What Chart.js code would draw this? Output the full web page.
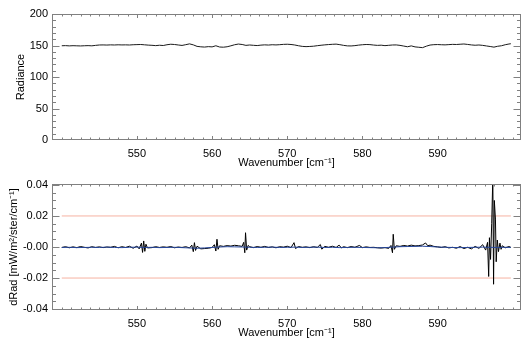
<!DOCTYPE html>
<html>
<head>
<meta charset="utf-8">
<script src="https://cdn.jsdelivr.net/npm/chart.js@4/dist/chart.umd.min.js"></script>
<style>
  html, body { margin: 0; padding: 0; background: #fff; }
  #wrap { position: relative; width: 526px; height: 342px; }
  canvas { position: absolute; left: 0; }
</style>
</head>
<body>
<div id="wrap">
  <canvas id="top" width="526" height="171" style="top:0"></canvas>
  <canvas id="bottom" width="526" height="171" style="top:170px"></canvas>
</div>
<script>
// --- data ---
const radWn = [
  540, 540.5, 541, 541.5, 542, 542.5, 543, 543.5, 544, 544.5,
  545, 545.5, 546, 546.5, 547, 547.5, 548, 548.5, 549, 549.5,
  550, 550.5, 551, 551.5, 552, 552.5, 553, 553.5, 554, 554.5,
  555, 555.5, 556, 556.5, 557, 557.5, 558, 558.5, 559, 559.5,
  560, 560.5, 561, 561.5, 562, 562.5, 563, 563.5, 564, 564.5,
  565, 565.5, 566, 566.5, 567, 567.5, 568, 568.5, 569, 569.5,
  570, 570.5, 571, 571.5, 572, 572.5, 573, 573.5, 574, 574.5,
  575, 575.5, 576, 576.5, 577, 577.5, 578, 578.5, 579, 579.5,
  580, 580.5, 581, 581.5, 582, 582.5, 583, 583.5, 584, 584.5,
  585, 585.5, 586, 586.5, 587, 587.5, 588, 588.5, 589, 589.5,
  590, 590.5, 591, 591.5, 592, 592.5, 593, 593.5, 594, 594.5,
  595, 595.5, 596, 596.5, 597, 597.5, 598, 598.5, 599, 599.5,
  599.75
];
const radiance = [
  149.6, 149.8, 149.4, 149.7, 149.5, 149.3, 149.6, 149.8, 149.5, 150.2,
  150.8, 150.9, 150.7, 151.0, 150.8, 151.1, 150.9, 151.0, 150.8, 151.2,
  151.4, 151.6, 151.1, 150.6, 150.3, 149.8, 150.4, 150.0, 151.2, 152.0,
  151.6, 150.8, 150.1, 151.3, 152.6, 151.0, 148.6, 147.9, 147.5, 148.2,
  147.8, 149.6, 147.6, 147.3, 148.0, 149.5, 151.2, 152.3, 151.6, 150.2,
  150.8, 150.3, 149.9, 150.6, 151.0, 150.7, 151.2, 150.9, 151.3, 151.8,
  152.0, 151.6, 150.8, 149.6, 148.6, 148.2, 148.5, 148.9, 149.7, 150.4,
  151.0, 151.5, 151.9, 152.2, 151.3, 150.2, 149.4, 149.3, 149.8, 150.6,
  151.2, 151.6, 151.4, 150.7, 150.2, 150.5, 149.8, 150.3, 150.8, 150.9,
  150.2, 149.1, 148.0, 149.4, 147.8, 147.2, 146.6, 148.9, 150.7, 151.3,
  151.5, 151.2, 151.0, 151.4, 151.8, 151.6, 152.0, 152.4, 151.7, 150.9,
  150.4, 150.8, 150.2, 149.3, 148.4, 147.4, 148.8, 149.6, 151.2, 152.4,
  152.8
];

const dRadWn = [
  540, 540.5, 541, 541.5, 542, 542.5, 543, 543.5, 544, 544.5,
  545, 545.5, 546, 546.5, 547, 547.5, 548, 548.5, 549, 549.5,
  550, 550.3, 550.6, 550.75, 550.9, 551.05, 551.2, 551.4, 552, 552.5,
  553, 553.5, 554, 554.5, 555, 555.5, 556, 556.5, 557, 557.3,
  557.5, 557.65, 557.8, 558, 558.5, 559, 559.5, 560, 560.3, 560.5,
  560.65, 560.8, 561, 561.5, 562, 562.5, 563, 563.5, 564, 564.2,
  564.35, 564.45, 564.6, 564.8, 565, 565.5, 566, 566.5, 567, 567.5,
  568, 568.5, 569, 569.5, 570, 570.5, 570.9, 571.1, 571.5, 572,
  572.5, 573, 573.5, 574, 574.4, 574.6, 575, 575.5, 576, 576.5,
  576.9, 577.2, 577.5, 578, 578.5, 579, 579.6, 580, 580.5, 581,
  581.5, 582, 582.5, 583, 583.5, 583.8, 584, 584.1, 584.25, 584.5,
  585, 585.5, 586, 586.5, 587, 587.5, 588, 588.4, 588.7, 589,
  589.5, 590, 590.5, 591, 591.5, 592, 592.5, 593, 593.5, 594,
  594.5, 595, 595.5, 596, 596.4, 596.65, 596.8, 596.9, 597.05, 597.2,
  597.35, 597.45, 597.55, 597.7, 597.8, 597.95, 598.1, 598.3, 598.45, 598.6,
  599, 599.5, 599.75
];
const dRad = [
  -0.0003, 0.0002, -0.0005, 0.0001, -0.0004, 0.0003, -0.0002, -0.0006, 0.0002, -0.0003,
  0.0001, -0.0004, 0.0000, -0.0002, 0.0004, -0.0005, 0.0002, -0.0003, 0.0005, -0.0008,
  0.0006, -0.0012, 0.0025, -0.0035, 0.0039, -0.0028, 0.0018, -0.0006, -0.0004, 0.0002,
  -0.0003, 0.0001, -0.0002, 0.0003, -0.0005, 0.0000, -0.0003, 0.0002, -0.0006, 0.0012,
  -0.0030, 0.0028, -0.0022, 0.0005, -0.0012, -0.0010, -0.0008, -0.0003, 0.0015, -0.0026,
  0.0050, -0.0015, 0.0008, 0.0004, 0.0009, 0.0006, 0.0011, 0.0008, 0.0004, 0.0030,
  -0.0037, 0.0092, -0.0020, 0.0010, 0.0002, -0.0004, 0.0003, -0.0002, 0.0004, -0.0003,
  0.0001, -0.0005, 0.0002, -0.0001, 0.0005, -0.0004, 0.0028, -0.0010, 0.0003, -0.0002,
  0.0001, -0.0004, 0.0002, -0.0003, 0.0016, -0.0014, 0.0004, -0.0002, 0.0005, -0.0003,
  0.0012, -0.0006, 0.0002, -0.0004, 0.0003, -0.0002, 0.0010, -0.0004, 0.0001, -0.0003,
  -0.0002, -0.0005, -0.0007, -0.0004, -0.0009, 0.0010, -0.0037, 0.0082, -0.0015, 0.0008,
  0.0004, 0.0010, 0.0006, 0.0012, 0.0007, 0.0009, 0.0013, 0.0026, 0.0008, 0.0012,
  0.0004, 0.0001, -0.0003, 0.0002, -0.0006, -0.0002, -0.0008, 0.0003, -0.0010, -0.0002,
  -0.0012, 0.0004, -0.0009, 0.0015, -0.0020, 0.0030, -0.0190, 0.0060, -0.0080, 0.0150,
  0.0450, -0.0240, 0.0300, 0.0180, -0.0095, 0.0045, -0.0030, 0.0025, -0.0015, 0.0008,
  -0.0005, 0.0003, -0.0002
];

const blueWn = [
  540, 541, 542, 543, 544, 545, 546, 547, 548, 549,
  550, 551, 552, 553, 554, 555, 556, 557, 558, 559,
  560, 561, 562, 563, 564, 565, 566, 567, 568, 569,
  570, 571, 572, 573, 574, 575, 576, 577, 578, 579,
  580, 581, 582, 583, 584, 585, 586, 587, 588, 589,
  590, 591, 592, 593, 594, 595, 596, 597, 598, 599,
  599.75
];
const dRadBlue = [
  -0.0003, -0.0002, -0.0004, -0.0003, -0.0002, -0.0003, -0.0001, -0.0003, -0.0004, -0.0002,
  -0.0001, -0.0003, -0.0002, -0.0004, -0.0003, -0.0002, -0.0004, -0.0006, -0.0008, -0.0006,
  -0.0003, 0.0000, 0.0002, 0.0001, 0.0000, -0.0002, -0.0003, -0.0002, -0.0001, -0.0003,
  -0.0002, -0.0001, -0.0003, -0.0002, -0.0001, -0.0003, -0.0002, -0.0004, -0.0003, -0.0002,
  -0.0003, -0.0004, -0.0005, -0.0004, -0.0001, 0.0002, 0.0003, 0.0004, 0.0005, 0.0003,
  0.0000, -0.0002, -0.0003, -0.0004, -0.0003, -0.0002, -0.0001, -0.0002, -0.0003, -0.0002,
  -0.0003
];

const limitWn = [540, 599.75];
const limitUpper = [0.02, 0.02];
const limitLower = [-0.02, -0.02];

const xTicks = [550, 560, 570, 580, 590];
const xTickLabels = ["550", "560", "570", "580", "590"];
const radTicks = [0, 50, 100, 150, 200];
const radTickLabels = ["0", "50", "100", "150", "200"];
const dRadTicks = [-0.04, -0.02, 0, 0.02, 0.04];
const dRadTickLabels = ["-0.04", "-0.02", "-0.00", "0.02", "0.04"];

const FONT = "'Liberation Sans', Arial, Helvetica, sans-serif";
Chart.defaults.font.family = FONT;
Chart.defaults.font.size = 11;
Chart.defaults.color = "#000";

const pts = (xs, ys) => xs.map((x, i) => ({ x: x, y: ys[i] }));

// frame with inward major/minor ticks on all four sides (IDL style)
const framePlugin = {
  id: "frame",
  afterDatasetsDraw(chart, args, opts) {
    const { ctx, chartArea: a, scales } = chart;
    const xs = scales.x, ys = scales.y;
    const L = Math.round(a.left) + 0.5, R = Math.round(a.right) - 0.5;
    const T = Math.round(a.top) + 0.5, B = Math.round(a.bottom) - 0.5;
    ctx.save();
    ctx.strokeStyle = "#808080";
    ctx.lineWidth = 1;
    ctx.strokeRect(L, T, R - L, B - T);
    ctx.beginPath();
    // x ticks
    for (let v = opts.xMinorFrom; v <= xs.max; v += opts.xMinor) {
      const px = Math.round(xs.getPixelForValue(v)) + 0.5;
      if (px <= L || px >= R) continue;
      const major = xTicks.some((t) => Math.abs(t - v) < 1e-6);
      const len = major ? 3.5 : 2;
      ctx.moveTo(px, B); ctx.lineTo(px, B - len);
      ctx.moveTo(px, T); ctx.lineTo(px, T + len);
    }
    // y ticks
    const yMajor = opts.yMajor;
    for (let v = ys.min; v <= ys.max + 1e-9; v += opts.yMinor) {
      const vv = Math.round(v / opts.yMinor) * opts.yMinor;
      const py = Math.round(ys.getPixelForValue(vv)) + 0.5;
      if (py < T - 0.1 || py > B + 0.1) continue;
      const major = yMajor.some((t) => Math.abs(t - vv) < opts.yMinor / 10);
      const len = major ? 7 : 3.5;
      ctx.moveTo(L, py); ctx.lineTo(L + len, py);
      ctx.moveTo(R, py); ctx.lineTo(R - len, py);
    }
    ctx.stroke();
    ctx.restore();
  },
};

function panel(id, datasets, y, frameOpts) {
  return new Chart(document.getElementById(id), {
    type: "line",
    data: { datasets: datasets },
    plugins: [framePlugin],
    options: {
      responsive: false,
      animation: false,
      events: [],
      layout: { padding: { top: 14, right: 5, left: 0, bottom: 0 } },
      elements: { point: { radius: 0 }, line: { tension: 0, borderWidth: 1 } },
      plugins: { legend: { display: false }, tooltip: { enabled: false }, frame: frameOpts },
      scales: {
        x: {
          type: "linear",
          min: 538.7,
          max: 601.1,
          grid: { display: false, drawTicks: false },
          border: { display: false },
          afterFit: (s) => { s.height = 31; },
          afterBuildTicks: (s) => { s.ticks = xTicks.map((v) => ({ value: v })); },
          ticks: {
            padding: 7,
            maxRotation: 0,
            autoSkip: false,
            callback: (v, i) => xTickLabels[i],
          },
          title: {
            display: true,
            text: "Wavenumber [cm\u207B\u00B9]",
            padding: { top: 0, bottom: 1 },
          },
        },
        y: {
          type: "linear",
          min: y.min,
          max: y.max,
          grid: { display: false, drawTicks: false },
          border: { display: false },
          afterFit: (s) => { s.width = 52; },
          afterBuildTicks: (s) => { s.ticks = y.ticks.map((v) => ({ value: v })); },
          ticks: {
            padding: 4,
            autoSkip: false,
            callback: (v, i) => y.labels[i],
          },
          title: {
            display: true,
            text: y.title,
            padding: { top: y.titlePad, bottom: 0 },
          },
        },
      },
    },
  });
}

panel(
  "top",
  [{ data: pts(radWn, radiance), borderColor: "#1a1a1a" }],
  { min: 0, max: 200, ticks: radTicks, labels: radTickLabels, title: "Radiance", titlePad: 14 },
  { xMinorFrom: 540, xMinor: 1.25, yMinor: 10, yMajor: radTicks }
);

panel(
  "bottom",
  [
    { data: pts(blueWn, dRadBlue), borderColor: "#23449a", order: 0 },
    { data: pts(dRadWn, dRad), borderColor: "#000", order: 1 },
    { data: pts(limitWn, limitUpper), borderColor: "#f6b3a2", order: 2 },
    { data: pts(limitWn, limitLower), borderColor: "#f6b3a2", order: 2 },
  ],
  {
    min: -0.0406, max: 0.0406, ticks: dRadTicks, labels: dRadTickLabels,
    title: "dRad [mW/m\u00B2/ster/cm\u207B\u00B9]", titlePad: 7,
  },
  { xMinorFrom: 540, xMinor: 1.25, yMinor: 0.005, yMajor: dRadTicks }
);
</script>
</body>
</html>
